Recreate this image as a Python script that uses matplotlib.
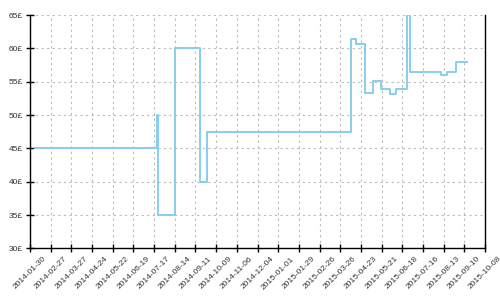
import pandas as pd
import matplotlib
matplotlib.use("Agg")
import matplotlib.pyplot as plt

dates = pd.to_datetime([
    "2014-02-06", "2014-07-21", "2014-07-22", "2014-08-14", "2014-09-17",
    "2014-09-26", "2015-04-09", "2015-04-17", "2015-04-28", "2015-05-09",
    "2015-05-20", "2015-06-02", "2015-06-09", "2015-06-25", "2015-06-28",
    "2015-08-09", "2015-08-17", "2015-08-30", "2015-09-13",
])
prices = [45, 50, 35, 60, 40,
          47.5, 61.4, 60.6, 53.3, 55.1,
          53.9, 53.2, 53.9, 80, 56.5,
          56.0, 56.5, 57.9, 57.9]

tick_dates = pd.date_range("2014-01-30", "2015-10-08", freq="28D")
y_ticks = [30, 35, 40, 45, 50, 55, 60, 65]

plt.rcParams['font.family'] = ['Liberation Sans', 'DejaVu Sans']

fig = plt.figure(figsize=(5, 3), dpi=100)
ax = fig.add_axes([0.06, 0.172, 0.91, 0.778])

ax.step(dates, prices, where="post", color="#87ceeb", lw=1.4, zorder=3)

ax.set_xlim(tick_dates[0], tick_dates[-1])
ax.set_ylim(30, 65)
ax.set_xticks(tick_dates)
ax.set_xticklabels([d.strftime("%Y-%m-%d") for d in tick_dates],
                   rotation=45, ha="center")
ax.set_yticks(y_ticks)
ax.set_yticklabels([f"{v}£" for v in y_ticks])

ax.grid(True, color="#bbbbbb", linestyle=(0, (2, 3)), lw=0.8)
ax.set_axisbelow(True)
ax.spines["top"].set_visible(False)
for s in ["left", "right", "bottom"]:
    ax.spines[s].set_linewidth(1.0)
ax.tick_params(axis="both", direction="inout", length=6, width=1,
               labelsize=6, labelcolor="#333333", pad=2)

fig.savefig("out.png", dpi=100)
